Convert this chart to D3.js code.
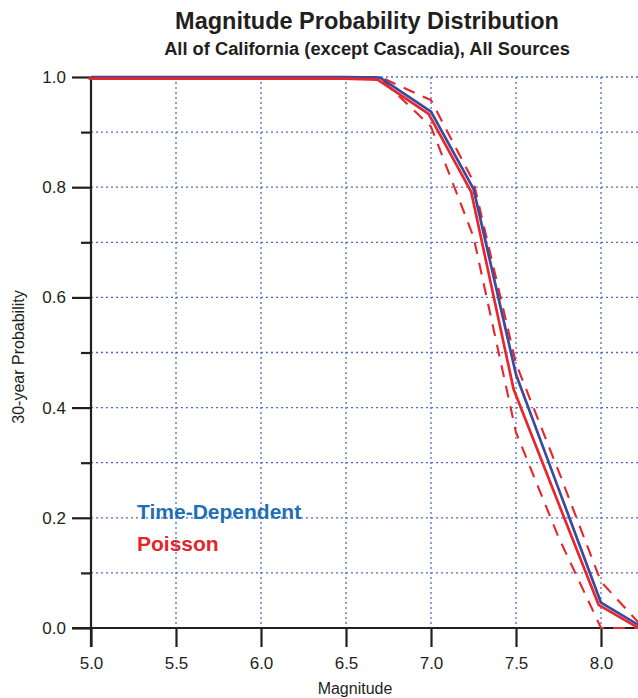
<!DOCTYPE html>
<html>
<head>
<meta charset="utf-8">
<script src="https://cdn.jsdelivr.net/npm/d3@7"></script>
<style>
  html, body { margin: 0; padding: 0; background: #fff; }
  svg { display: block; }
  text { font-family: "Liberation Sans", Arial, Helvetica, sans-serif; }
</style>
</head>
<body>
<svg id="chart" width="638" height="698"></svg>
<script>
// Magnitude thresholds (x) and 30-year exceedance probabilities (y)
const magnitudes    = [5.0, 5.5, 6.0, 6.5, 6.7, 7.0, 7.25, 7.5, 7.75, 8.0, 8.25];
const timeDependent = [1.0, 1.0, 1.0, 1.0, 0.999, 0.937, 0.797, 0.46, 0.253, 0.046, 0.0];
const poisson       = [1.0, 1.0, 1.0, 1.0, 0.998, 0.936, 0.795, 0.436, 0.24, 0.045, 0.0];
const poissonUpper  = [1.0, 1.0, 1.0, 1.0, 1.0, 0.958, 0.81, 0.48, 0.285, 0.084, 0.0];
const poissonLower  = [1.0, 1.0, 1.0, 1.0, 0.998, 0.91, 0.71, 0.355, 0.165, 0.0, 0.0];

const xTicks = [5.0, 5.5, 6.0, 6.5, 7.0, 7.5, 8.0];
const yMajorTicks = [0.0, 0.2, 0.4, 0.6, 0.8, 1.0];
const yMinorTicks = [0.1, 0.3, 0.5, 0.7, 0.9];
const yGrid = [0.1, 0.2, 0.3, 0.4, 0.5, 0.6, 0.7, 0.8, 0.9, 1.0];
const xGrid = [5.5, 6.0, 6.5, 7.0, 7.5, 8.0];

const svg = d3.select("#chart");
const W = 638;

const x = d3.scaleLinear().domain([5.0, 8.25]).range([91, 91 + 3.25 * 170]);
const y = d3.scaleLinear().domain([0, 1]).range([628, 77]);

const gridColor = "#4d6cc2";
const axisColor = "#231f20";
const blue = "#3b4a9d";
const red = "#e8262c";

// Titles
svg.append("text")
  .attr("x", 367).attr("y", 29)
  .attr("text-anchor", "middle")
  .attr("font-weight", "bold").attr("font-size", 23.5)
  .attr("fill", "#231f20")
  .text("Magnitude Probability Distribution");
svg.append("text")
  .attr("x", 367).attr("y", 55)
  .attr("text-anchor", "middle")
  .attr("font-weight", "bold").attr("font-size", 18.3)
  .attr("fill", "#231f20")
  .text("All of California (except Cascadia), All Sources");

// Dotted grid
const grid = svg.append("g");
grid.selectAll("line.h").data(yGrid).join("line")
  .attr("x1", x(5.0)).attr("x2", W)
  .attr("y1", d => y(d)).attr("y2", d => y(d))
  .attr("stroke", gridColor).attr("stroke-width", 1.3)
  .attr("stroke-dasharray", "2,3");
grid.selectAll("line.v").data(xGrid).join("line")
  .attr("x1", d => x(d)).attr("x2", d => x(d))
  .attr("y1", y(1)).attr("y2", y(0))
  .attr("stroke", gridColor).attr("stroke-width", 1.3)
  .attr("stroke-dasharray", "2,3");

// Axes
const yAxisMajor = d3.axisLeft(y).tickValues(yMajorTicks).tickSize(19)
  .tickFormat(d3.format(".1f")).tickPadding(6);
const yAxisMinor = d3.axisLeft(y).tickValues(yMinorTicks).tickSize(10).tickFormat("");
const xAxis = d3.axisBottom(x).tickValues(xTicks).tickSize(19)
  .tickFormat(d3.format(".1f")).tickPadding(10);

function styleAxis(g) {
  g.select(".domain").remove();
  g.selectAll(".tick line").attr("stroke", axisColor).attr("stroke-width", 2.2);
  g.selectAll(".tick text").attr("fill", "#231f20").attr("font-size", 17)
    .attr("font-family", "'Liberation Sans', Arial, sans-serif");
}

svg.append("g").attr("transform", `translate(${x(5.0)},0)`).call(yAxisMinor).call(styleAxis);
svg.append("g").attr("transform", `translate(${x(5.0)},0)`).call(yAxisMajor).call(styleAxis);
svg.append("g").attr("transform", `translate(0,${y(0)})`).call(xAxis).call(styleAxis);

// Axis lines
svg.append("line").attr("x1", x(5.0)).attr("x2", x(5.0))
  .attr("y1", y(1)).attr("y2", y(0) + 19)
  .attr("stroke", axisColor).attr("stroke-width", 2.2);
svg.append("line").attr("x1", x(5.0) - 19).attr("x2", W)
  .attr("y1", y(0)).attr("y2", y(0))
  .attr("stroke", axisColor).attr("stroke-width", 2.2);

// Axis titles
svg.append("text")
  .attr("transform", "translate(24,357) rotate(-90)")
  .attr("text-anchor", "middle").attr("font-size", 16)
  .attr("fill", "#231f20")
  .text("30-year Probability");
svg.append("text")
  .attr("x", 355).attr("y", 694)
  .attr("text-anchor", "middle").attr("font-size", 16)
  .attr("fill", "#231f20")
  .text("Magnitude");

// Curves
const line = vals => d3.line()
  .x((d, i) => x(magnitudes[i]))
  .y(d => y(d))(vals);

const curves = svg.append("g");
curves.append("path").attr("d", line(poissonUpper))
  .attr("fill", "none").attr("stroke", red).attr("stroke-width", 2.1)
  .attr("stroke-dasharray", "12,9");
curves.append("path").attr("d", line(poissonLower))
  .attr("fill", "none").attr("stroke", red).attr("stroke-width", 2.1)
  .attr("stroke-dasharray", "12,9");
curves.append("path").attr("d", line(timeDependent))
  .attr("fill", "none").attr("stroke", blue).attr("stroke-width", 2.7)
  .attr("stroke-linejoin", "round");
// Poisson curve nudged slightly so the two nearly-equal curves stay distinguishable
curves.append("path").attr("d", line(poisson))
  .attr("transform", "translate(-2.4,1.6)")
  .attr("fill", "none").attr("stroke", red).attr("stroke-width", 2.7)
  .attr("stroke-linejoin", "round");

// Legend
svg.append("text")
  .attr("x", 137).attr("y", 519)
  .attr("font-weight", "bold").attr("font-size", 21)
  .attr("fill", "#1f6fb6")
  .text("Time-Dependent");
svg.append("text")
  .attr("x", 137).attr("y", 551)
  .attr("font-weight", "bold").attr("font-size", 21)
  .attr("fill", "#e3262b")
  .text("Poisson");
</script>
</body>
</html>
